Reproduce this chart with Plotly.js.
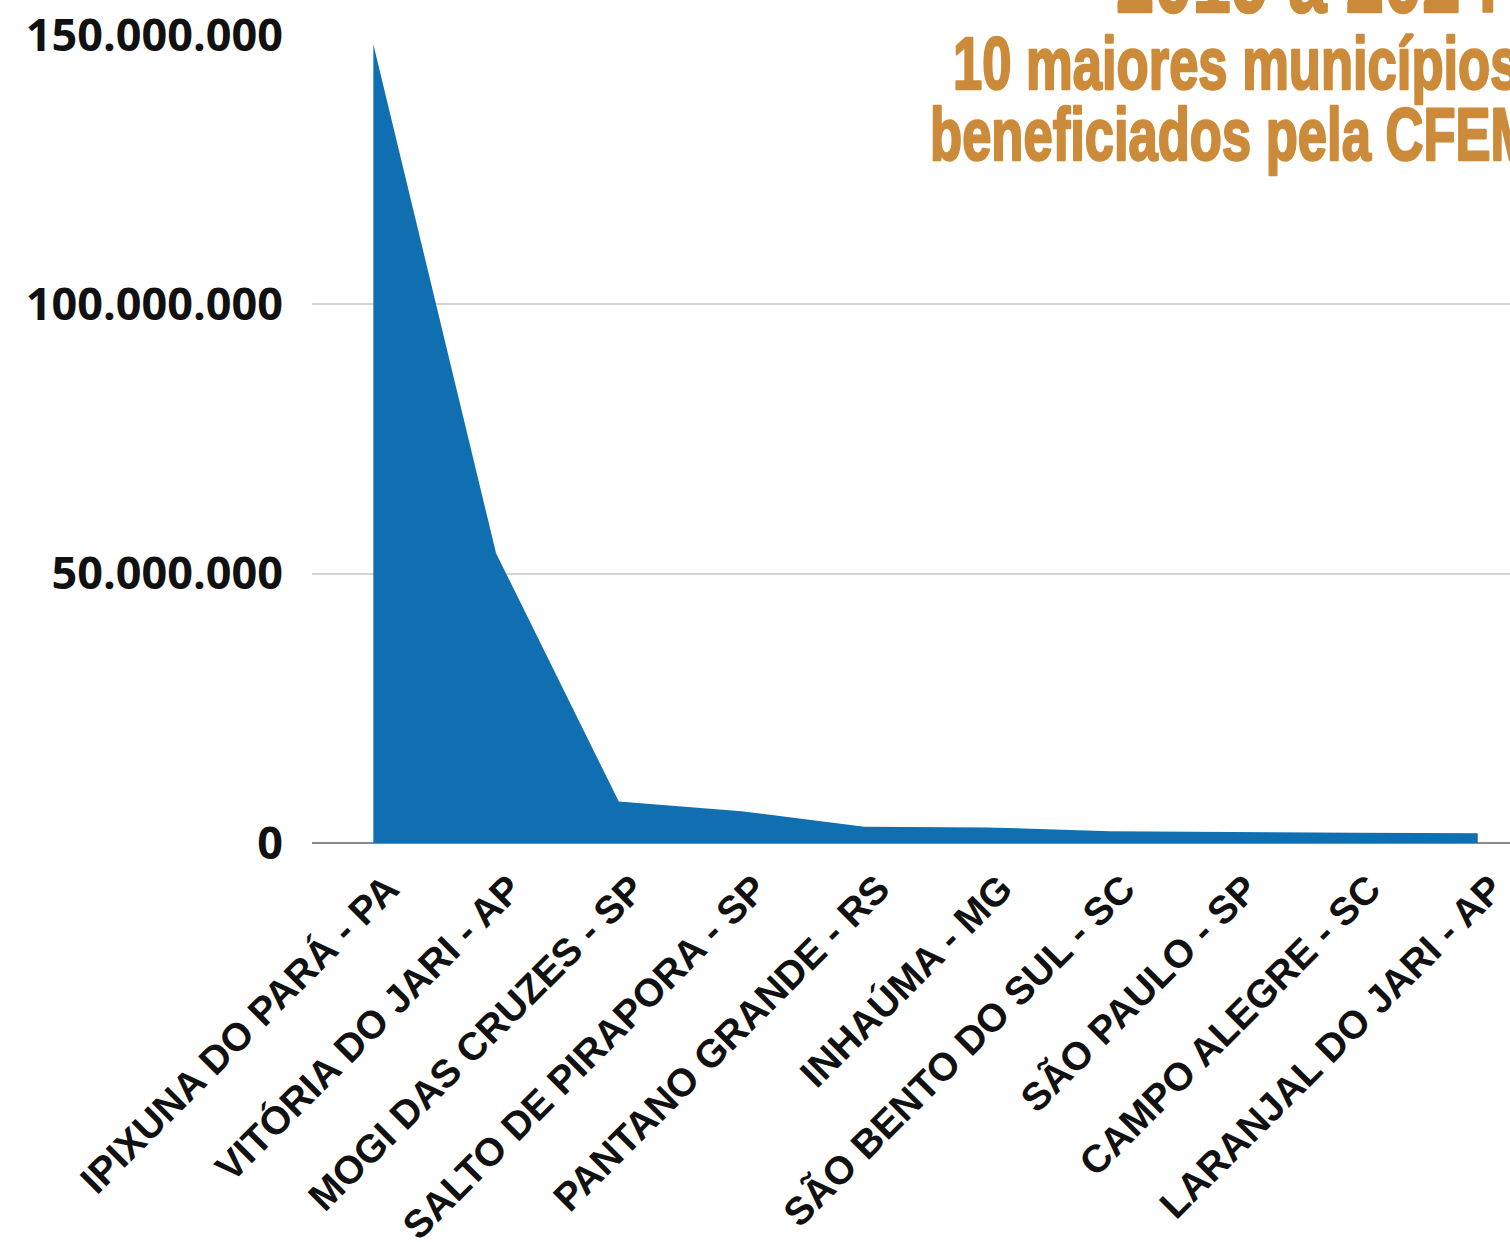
<!DOCTYPE html>
<html>
<head>
<meta charset="utf-8">
<script src="https://cdn.plot.ly/plotly-3.0.1.min.js"></script>
<style>html,body{margin:0;padding:0;background:#fff;}#chart{width:1510px;height:1242px;}</style>
</head>
<body>
<div id="chart"></div>
<script>
const municipios = [
  "IPIXUNA DO PARÁ - PA",
  "VITÓRIA DO JARI - AP",
  "MOGI DAS CRUZES - SP",
  "SALTO DE PIRAPORA - SP",
  "PANTANO GRANDE - RS",
  "INHAÚMA - MG",
  "SÃO BENTO DO SUL - SC",
  "SÃO PAULO - SP",
  "CAMPO ALEGRE - SC",
  "LARANJAL DO JARI - AP"
];
const valores = [148300000, 53800000, 7700000, 5900000, 3000000, 2900000, 2200000, 2000000, 1900000, 1800000];
const yTicks = [0, 50000000, 100000000, 150000000];
const tituloLinhas = ["2019 a 2024", "10 maiores municípios", "beneficiados pela CFEM"];

const W = 1510, H = 1242;
const mL = 312, mR = 0, mT = 35, mB = 399;
const pw = W - mL - mR, ph = H - mT - mB;
const px2x = p => (p - mL) / pw;
const px2y = p => (H - mB - p) / ph;

const titleColor = "#cc8b3a";
const titleFont = {family: "'Liberation Sans', Arial, sans-serif", weight: 700, color: titleColor};

const trace = {
  type: "scatter",
  x: municipios,
  y: valores,
  mode: "lines",
  line: {width: 0, color: "#0f6fb1"},
  fill: "tozeroy",
  fillcolor: "#0f6fb1",
  hoverinfo: "x+y"
};

const layout = {
  width: W, height: H,
  margin: {l: mL, r: mR, t: mT, b: mB, pad: 0},
  paper_bgcolor: "#ffffff",
  plot_bgcolor: "#ffffff",
  separators: ",.",
  showlegend: false,
  xaxis: {
    type: "category",
    range: [-0.5, 9.263],
    showgrid: false,
    showline: false,
    zeroline: false,
    ticks: "",
    tickangle: -45,
    ticklabelstandoff: 14,
    ticklabelshift: 14,
    tickfont: {family: "'Liberation Sans', Arial, sans-serif", size: 39, weight: 700, color: "#111111"},
    automargin: false
  },
  yaxis: {
    range: [0, 150000000],
    tickvals: yTicks,
    tickformat: ",d",
    showgrid: true,
    gridcolor: "#d3d3d3",
    gridwidth: 2,
    zeroline: true,
    zerolinecolor: "#8a8a8a",
    zerolinewidth: 2,
    showline: false,
    ticks: "",
    ticklabelstandoff: 28,
    tickfont: {family: "'Open Sans', sans-serif", size: 45, weight: 700, color: "#111111"},
    automargin: false
  },
  annotations: [
    {text: tituloLinhas[0], xref: "paper", yref: "paper", x: px2x(1114), y: px2y(-22), xanchor: "left", yanchor: "middle", showarrow: false, font: Object.assign({size: 97}, titleFont)},
    {text: tituloLinhas[1], xref: "paper", yref: "paper", x: px2x(951), y: px2y(63), xanchor: "left", yanchor: "middle", showarrow: false, font: Object.assign({size: 74}, titleFont)},
    {text: tituloLinhas[2], xref: "paper", yref: "paper", x: px2x(928), y: px2y(134), xanchor: "left", yanchor: "middle", showarrow: false, font: Object.assign({size: 74}, titleFont)}
  ]
};

Plotly.newPlot("chart", [trace], layout, {staticPlot: true, displayModeBar: false}).then(function (gd) {
  // condense and embolden the title lines (the reference uses a heavy condensed display face)
  gd.querySelectorAll(".annotation-text").forEach(function (el) {
    const bb = el.getBBox();
    el.setAttribute("transform", "translate(" + bb.x + ",0) scale(0.71,1) translate(" + (-bb.x) + ",0)");
    el.style.stroke = titleColor;
    el.style.strokeWidth = "2.5px";
    el.style.strokeLinejoin = "round";
  });
});
</script>
</body>
</html>
